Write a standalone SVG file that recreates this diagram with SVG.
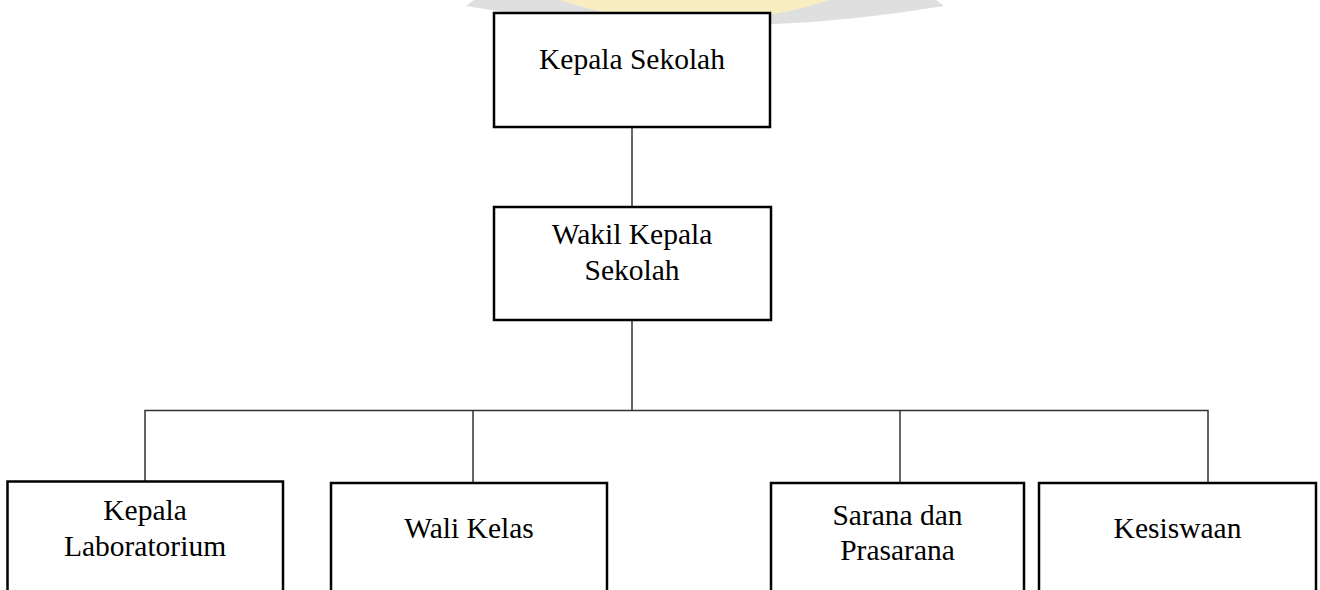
<svg xmlns="http://www.w3.org/2000/svg" width="1320" height="590" viewBox="0 0 1320 590">
<style>
.box{fill:#fff;stroke:#000;stroke-width:2.5}
.t{font-family:"Liberation Serif","Times New Roman",serif;font-size:29.5px;fill:#000;text-anchor:middle}
.c{stroke:#333;stroke-width:1.5;fill:none}
</style>
<rect width="1320" height="590" fill="#fff"/>
<g id="watermark" opacity="0.7">
<path d="M466,6 Q705,46 944,6 L936,0 L474,0 Z" fill="#d2d2d2"/>
<path d="M560,0 Q690,44 830,0 Z" fill="#f6e7a8"/>
</g>
<g id="connectors">
<line class="c" x1="632" y1="127" x2="632" y2="207"/>
<line class="c" x1="632" y1="320" x2="632" y2="411"/>
<polyline class="c" points="145,481 145,410.5 1208,410.5 1208,483"/>
<line class="c" x1="473" y1="410" x2="473" y2="483"/>
<line class="c" x1="900" y1="410" x2="900" y2="483"/>
</g>
<g id="kepala-sekolah">
<rect class="box" x="494" y="13" width="276" height="114"/>
<text class="t" x="632" y="69">Kepala Sekolah</text>
</g>
<g id="wakil-kepala-sekolah">
<rect class="box" x="494" y="207" width="277" height="113"/>
<text class="t" x="632" y="244">Wakil Kepala</text>
<text class="t" x="632" y="280">Sekolah</text>
</g>
<g id="kepala-laboratorium">
<rect class="box" x="7.5" y="481.5" width="275.5" height="120"/>
<text class="t" x="145" y="520">Kepala</text>
<text class="t" x="145" y="556">Laboratorium</text>
</g>
<g id="wali-kelas">
<rect class="box" x="331" y="483" width="276" height="120"/>
<text class="t" x="469" y="538">Wali Kelas</text>
</g>
<g id="sarana-prasarana">
<rect class="box" x="771" y="483" width="253" height="120"/>
<text class="t" x="897.5" y="525">Sarana dan</text>
<text class="t" x="897.5" y="560">Prasarana</text>
</g>
<g id="kesiswaan">
<rect class="box" x="1039" y="483" width="277" height="120"/>
<text class="t" x="1177.5" y="538">Kesiswaan</text>
</g>
</svg>
